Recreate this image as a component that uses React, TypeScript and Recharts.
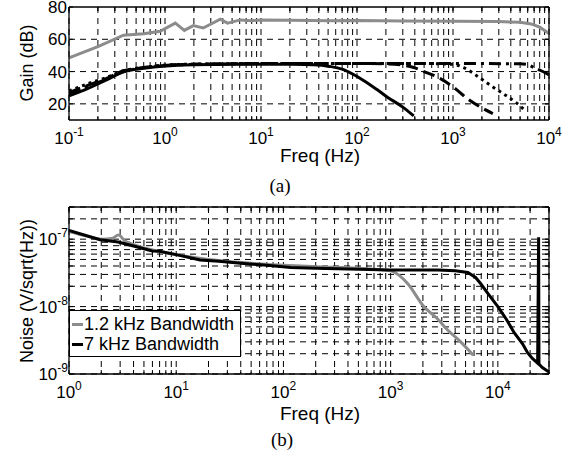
import { LineChart, Line, XAxis, YAxis, CartesianGrid, Legend, Customized } from 'recharts';

const FONT = '"Liberation Sans", Arial, sans-serif';
const SERIF = '"Liberation Serif", "Times New Roman", serif';
const GREY = '#8c8c8c';

// (a) gain vs frequency
const gainTicksX = [0.1, 1, 10, 100, 1000, 10000];
const gainTicksY = [20, 40, 60, 80];

const greyGainHz = [0.1, 0.2, 0.37, 0.6, 0.89, 1.28, 1.59, 1.97, 2.5, 3.77, 4.47, 6.1, 8, 10, 20, 50, 100, 300, 1000, 3000, 5000, 6500, 8000, 10000];
const greyGainDb = [48.5, 55.5, 62.5, 63.5, 65, 70, 65.5, 68.5, 67, 72.5, 70, 72, 71.5, 72, 71.8, 71.5, 71.7, 71.3, 71.2, 71, 70.5, 69.5, 67.5, 63.5];

const solidHz = [0.1, 0.15, 0.25, 0.37, 0.6, 1, 2, 5, 10, 20, 35, 52, 70, 90, 117, 160, 209, 300, 390];
const solidDb = [25, 29, 35, 39.8, 42, 43.5, 44.3, 44.6, 44.6, 44.5, 44.2, 43.2, 41.5, 38.5, 34.5, 29, 24, 18, 12.5];

const dashHz = [0.1, 0.15, 0.25, 0.37, 0.6, 1, 2, 5, 10, 30, 100, 200, 300, 390, 500, 740, 1000, 1430, 2000, 2600];
const dashDb = [27, 31, 36, 40.5, 42.5, 43.8, 44.5, 44.8, 45, 45, 45, 44.8, 44, 42.5, 40, 35.6, 30.5, 23, 17.5, 14];

const dotHz = [0.1, 0.15, 0.25, 0.37, 0.6, 1, 2, 5, 10, 100, 500, 1000, 1290, 1950, 2600, 3400, 4500, 5740];
const dotDb = [28, 32, 36.5, 40.5, 42.5, 44, 44.6, 44.8, 45, 45, 45, 44.5, 42.5, 35.6, 30.5, 26, 21, 15.5];

const dashDotHz = [0.1, 0.15, 0.25, 0.37, 0.6, 1, 2, 5, 10, 100, 1000, 5000, 6000, 6950, 8300, 10000];
const dashDotDb = [26, 30.5, 35.5, 40, 42.3, 43.8, 44.5, 44.8, 45, 45, 45, 44.8, 44.3, 42.5, 40.5, 38];

// (b) noise vs frequency
const noiseTicksX = [1, 10, 100, 1000, 10000];
const noiseTicksY = [1e-9, 1e-8, 1e-7];

const greyNoiseHz = [1, 1.5, 2, 2.5, 2.9, 3.3, 4, 6, 10, 20, 50, 100, 200, 500, 1000, 1200, 1440, 2040, 2700, 3400, 4500, 5900];
const greyNoise = [1.3e-7, 1.1e-7, 1.0e-7, 1.02e-7, 1.15e-7, 9.5e-8, 8.3e-8, 6.9e-8, 5.9e-8, 5.0e-8, 4.4e-8, 4.1e-8, 3.9e-8, 3.7e-8, 3.4e-8, 2.9e-8, 2.2e-8, 1.0e-8, 6.7e-9, 4.5e-9, 3.0e-9, 1.9e-9];

const blackNoiseHz = [1, 1.95, 2.87, 4, 5.97, 7, 10, 16.7, 25, 40, 70, 117, 200, 400, 1000, 2000, 2750, 4000, 5250, 6200, 6900, 8000, 10000, 12000, 14200, 17000, 19000, 21000, 23500, 24000, 24200, 26000, 30000];
const blackNoise = [1.35e-7, 9.8e-8, 9.1e-8, 7.9e-8, 6.7e-8, 6.6e-8, 5.9e-8, 4.9e-8, 4.7e-8, 4.4e-8, 4.1e-8, 3.8e-8, 3.7e-8, 3.6e-8, 3.5e-8, 3.5e-8, 3.5e-8, 3.4e-8, 3.2e-8, 2.7e-8, 2.2e-8, 1.6e-8, 1.0e-8, 6.5e-9, 4.1e-9, 2.8e-9, 2.05e-9, 1.7e-9, 1.45e-9, 1.07e-7, 1.4e-9, 1.25e-9, 1.07e-9];

const legendLabels = ['1.2 kHz Bandwidth', '7 kHz Bandwidth'];
const legendColors = [GREY, '#000'];

const zip = (f: number[], v: number[]) => f.map((x, i) => ({ f: x, v: v[i] }));

// log minor ticks 1..9 per decade
function logTicks(lo: number, hi: number) {
  const out: number[] = [];
  for (let d = lo; d <= hi * 1.0001; d *= 10) {
    for (let m = 1; m <= 9; m++) {
      const t = Number((m * d).toPrecision(3));
      if (t <= hi * 1.0001) out.push(t);
    }
  }
  return out;
}

function XPowTick(props: any) {
  const { x, y, payload } = props;
  const e = Math.round(Math.log10(payload.value));
  return (
    <text x={x} y={y + 24} textAnchor="middle" fontFamily={FONT} fontSize={17} fill="#000">
      10<tspan dy={-8} fontSize={12}>{e}</tspan>
    </text>
  );
}

function YPowTick(props: any) {
  const { x, y, payload } = props;
  const e = Math.round(Math.log10(payload.value));
  return (
    <text x={x - 1} y={y + 6} textAnchor="end" fontFamily={FONT} fontSize={17} fill="#000">
      10<tspan dy={-8} fontSize={12}>{e}</tspan>
    </text>
  );
}

function YNumTick(props: any) {
  const { x, y, payload } = props;
  return (
    <text x={x - 2} y={y + 6} textAnchor="end" fontFamily={FONT} fontSize={17} fill="#000">
      {payload.value}
    </text>
  );
}

const NoTick = () => <g />;

const frameAxes = (xDomain: number[], xMinor: number[], yDomain: number[], yMinor: number[], yScale: 'log' | 'linear') => [
  <XAxis key="xb" xAxisId="mb" dataKey="f" type="number" scale="log" domain={xDomain} ticks={xMinor} allowDataOverflow mirror height={1} tickSize={4} tick={NoTick} axisLine={false} stroke="#000" interval={0} />,
  <XAxis key="xt" xAxisId="mt" dataKey="f" type="number" scale="log" domain={xDomain} ticks={xMinor} allowDataOverflow mirror orientation="top" height={1} tickSize={4} tick={NoTick} stroke="#000" strokeWidth={1.3} interval={0} />,
  <YAxis key="yl" yAxisId="ml" type="number" scale={yScale} domain={yDomain} ticks={yMinor} allowDataOverflow mirror width={1} tickSize={4} tick={NoTick} axisLine={false} stroke="#000" interval={0} />,
  <YAxis key="yr" yAxisId="mr" type="number" scale={yScale} domain={yDomain} ticks={yMinor} allowDataOverflow mirror orientation="right" width={1} tickSize={4} tick={NoTick} stroke="#000" strokeWidth={1.3} interval={0} />,
];

function GainChart() {
  const xMinor = logTicks(0.1, 10000);
  const titles = () => (
    <g fontFamily={FONT} fill="#000">
      <text transform="translate(33,63) rotate(-90)" textAnchor="middle" fontSize={18}>Gain (dB)</text>
      <text x={320} y={162} textAnchor="middle" fontSize={19}>Freq (Hz)</text>
      <text x={280} y={192} textAnchor="middle" fontSize={19} fontFamily={SERIF}>(a)</text>
    </g>
  );
  return (
    <LineChart width={570} height={200} margin={{ top: 7, right: 21, bottom: 0, left: 0 }}>
      <CartesianGrid xAxisId="lab" yAxisId="lab" verticalValues={xMinor} horizontalValues={[20, 40, 60]} stroke="#000" strokeDasharray="6 5" />
      <XAxis xAxisId="lab" dataKey="f" type="number" scale="log" domain={[0.1, 10000]} ticks={gainTicksX} allowDataOverflow height={80} tickSize={0} tickMargin={0} tickLine={false} tick={<XPowTick />} stroke="#000" strokeWidth={1.3} interval={0} />
      <YAxis yAxisId="lab" type="number" domain={[10, 80]} ticks={gainTicksY} allowDataOverflow width={69} tickSize={0} tickMargin={0} tickLine={false} tick={<YNumTick />} stroke="#000" strokeWidth={1.3} interval={0} />
      {frameAxes([0.1, 10000], xMinor, [10, 80], [20, 40, 60, 80], 'linear')}
      <Line xAxisId="lab" yAxisId="lab" data={zip(greyGainHz, greyGainDb)} dataKey="v" stroke={GREY} strokeWidth={3} dot={false} type="linear" isAnimationActive={false} />
      <Line xAxisId="lab" yAxisId="lab" data={zip(solidHz, solidDb)} dataKey="v" stroke="#000" strokeWidth={3} dot={false} type="monotone" isAnimationActive={false} />
      <Line xAxisId="lab" yAxisId="lab" data={zip(dashHz, dashDb)} dataKey="v" stroke="#000" strokeWidth={3} strokeDasharray="12 6" dot={false} type="monotone" isAnimationActive={false} />
      <Line xAxisId="lab" yAxisId="lab" data={zip(dotHz, dotDb)} dataKey="v" stroke="#000" strokeWidth={3} strokeDasharray="3 4" dot={false} type="monotone" isAnimationActive={false} />
      <Line xAxisId="lab" yAxisId="lab" data={zip(dashDotHz, dashDotDb)} dataKey="v" stroke="#000" strokeWidth={3} strokeDasharray="12 5 3 5" dot={false} type="monotone" isAnimationActive={false} />
      <Customized component={titles} />
    </LineChart>
  );
}

function NoiseLegend() {
  return (
    <div style={{ boxSizing: 'border-box', width: 172, height: 47, border: '1.5px solid #000', background: '#fff', fontFamily: FONT, fontSize: 18, lineHeight: '20px', paddingTop: 3 }}>
      {legendLabels.map((l, i) => (
        <div key={l} style={{ display: 'flex', alignItems: 'center', height: 20, whiteSpace: 'nowrap' }}>
          <span style={{ display: 'inline-block', width: 11, height: 3, background: legendColors[i], marginLeft: 2, marginRight: 1 }} />
          <span>{l}</span>
        </div>
      ))}
    </div>
  );
}

function NoiseChart() {
  const xMinor = logTicks(1, 30000);
  const yMinor = logTicks(1e-9, 3e-7);
  const titles = () => (
    <g fontFamily={FONT} fill="#000">
      <text transform="translate(33,91) rotate(-90)" textAnchor="middle" fontSize={18}>Noise (V/sqrt(Hz))</text>
      <text x={320} y={220} textAnchor="middle" fontSize={19}>Freq (Hz)</text>
      <text x={282} y={246} textAnchor="middle" fontSize={19} fontFamily={SERIF}>(b)</text>
    </g>
  );
  return (
    <LineChart width={570} height={257} margin={{ top: 7, right: 21, bottom: 0, left: 0 }}>
      <CartesianGrid xAxisId="lab" yAxisId="lab" verticalValues={xMinor} horizontalValues={yMinor} stroke="#000" strokeDasharray="6 5" />
      <XAxis xAxisId="lab" dataKey="f" type="number" scale="log" domain={[1, 30000]} ticks={noiseTicksX} allowDataOverflow height={83} tickSize={0} tickMargin={0} tickLine={false} tick={<XPowTick />} stroke="#000" strokeWidth={1.3} interval={0} />
      <YAxis yAxisId="lab" type="number" scale="log" domain={[1e-9, 3e-7]} ticks={noiseTicksY} allowDataOverflow width={69} tickSize={0} tickMargin={0} tickLine={false} tick={<YPowTick />} stroke="#000" strokeWidth={1.3} interval={0} />
      {frameAxes([1, 30000], xMinor, [1e-9, 3e-7], yMinor, 'log')}
      <Line xAxisId="lab" yAxisId="lab" data={zip(greyNoiseHz, greyNoise)} dataKey="v" stroke={GREY} strokeWidth={3} dot={false} type="monotone" isAnimationActive={false} />
      <Line xAxisId="lab" yAxisId="lab" data={zip(blackNoiseHz, blackNoise)} dataKey="v" stroke="#000" strokeWidth={3} dot={false} type="linear" isAnimationActive={false} />
      <Legend layout="horizontal" verticalAlign="middle" align="center" wrapperStyle={{ left: 69, top: 110, width: 172, height: 47 }} content={() => <NoiseLegend />} />
      <Customized component={titles} />
    </LineChart>
  );
}

export default function App() {
  return (
    <div style={{ position: 'absolute', left: 0, top: 0, width: 570, height: 457, background: '#fff' }}>
      <div style={{ position: 'absolute', left: 0, top: 0 }}>
        <GainChart />
      </div>
      <div style={{ position: 'absolute', left: 0, top: 200 }}>
        <NoiseChart />
      </div>
    </div>
  );
}
